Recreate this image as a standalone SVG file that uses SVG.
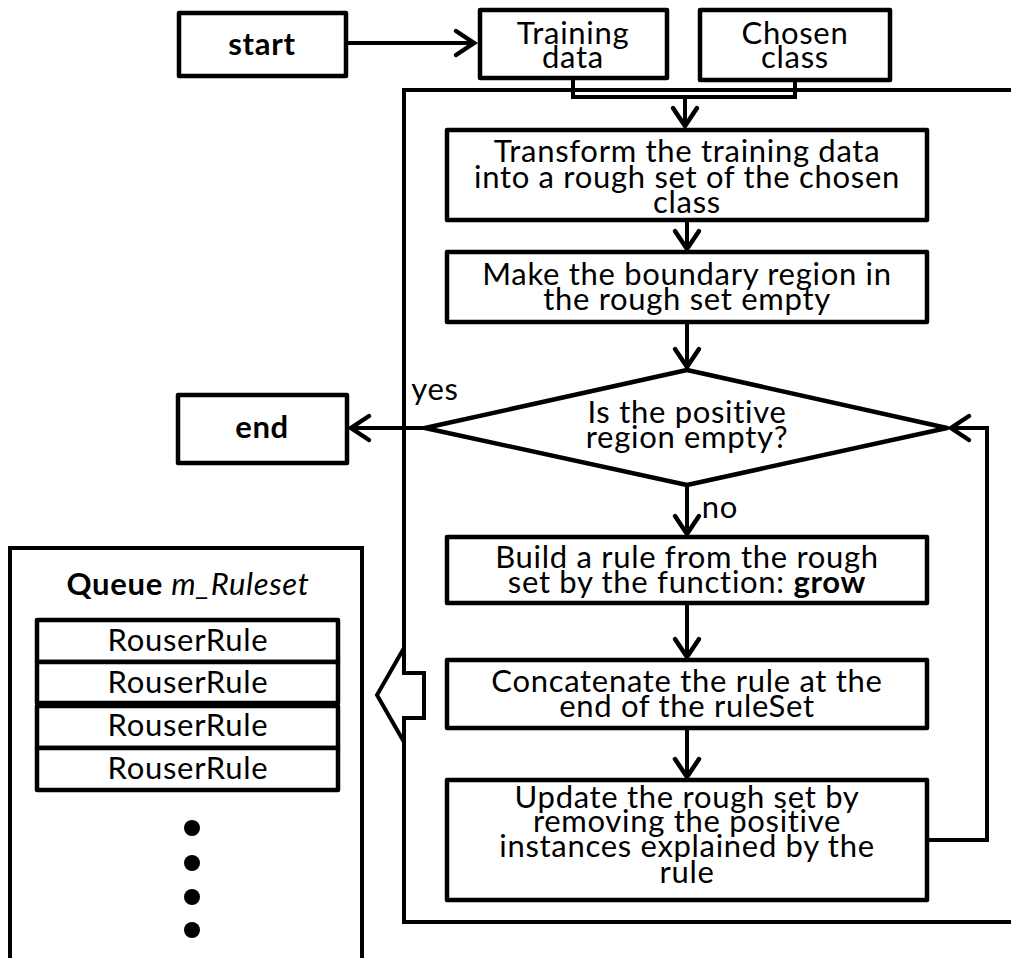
<svg xmlns="http://www.w3.org/2000/svg" width="1011" height="958" viewBox="0 0 1011 958">
<defs>
<style>
.box{fill:#fff;stroke:#000;stroke-width:4.5;stroke-linejoin:round}
.ln{fill:none;stroke:#000;stroke-width:4}
.t{font-family:Lato,"Liberation Sans",sans-serif;font-size:31px;letter-spacing:0.7px;fill:#000;text-anchor:middle}
.b{font-weight:bold}
</style>
<marker id="ah" markerUnits="userSpaceOnUse" markerWidth="40" markerHeight="40" refX="0" refY="0" orient="auto" overflow="visible">
<path d="M-18,-12 L0,0 L-18,12" fill="none" stroke="#000" stroke-width="4.5" stroke-linecap="round"/>
</marker>
</defs>
<rect width="1011" height="958" fill="#fff"/>

<g id="container"><path class="ln" d="M1020,90 H404 V922 H1020"/></g>

<g id="queue">
<path class="ln" d="M10,965 V548 H362 V965"/>
<text class="t" x="188" y="595"><tspan class="b">Queue </tspan><tspan font-style="italic">m_Ruleset</tspan></text>
<rect class="box" x="37" y="620" width="301" height="42"/>
<rect class="box" x="37" y="662" width="301" height="41"/>
<rect class="box" x="37" y="706" width="301" height="42"/>
<rect class="box" x="37" y="748" width="301" height="42"/>
<text class="t" x="188" y="651">RouserRule</text>
<text class="t" x="188" y="693">RouserRule</text>
<text class="t" x="188" y="736">RouserRule</text>
<text class="t" x="188" y="779">RouserRule</text>
<circle cx="192" cy="828" r="8"/>
<circle cx="192" cy="863" r="8"/>
<circle cx="192" cy="897" r="8"/>
<circle cx="192" cy="930" r="8"/>
</g>

<g id="connectors">
<line class="ln" x1="347" y1="43" x2="474" y2="43" marker-end="url(#ah)"/>
<path class="ln" d="M573,78 V97 H795 V80"/>
<line class="ln" x1="685" y1="97" x2="685" y2="126" marker-end="url(#ah)"/>
<line class="ln" x1="687" y1="220" x2="687" y2="249" marker-end="url(#ah)"/>
<line class="ln" x1="687" y1="322" x2="687" y2="367" marker-end="url(#ah)"/>
<line class="ln" x1="425" y1="428" x2="351" y2="428" marker-end="url(#ah)"/>
<line class="ln" x1="687" y1="485" x2="687" y2="534" marker-end="url(#ah)"/>
<line class="ln" x1="687" y1="603" x2="687" y2="657" marker-end="url(#ah)"/>
<line class="ln" x1="687" y1="728" x2="687" y2="777" marker-end="url(#ah)"/>
<path class="ln" d="M927,840 H987 V428 H951" marker-end="url(#ah)"/>
<polygon points="377,695 404,648 404,673 424,673 424,718 404,718 404,742" fill="#fff" stroke="#000" stroke-width="4" stroke-linejoin="miter"/>
</g>

<g id="start">
<rect class="box" x="179" y="13" width="167" height="63"/>
<text class="t b" x="262" y="55">start</text>
</g>
<g id="training">
<rect class="box" x="480" y="10" width="187" height="68"/>
<text class="t" x="573" y="44">Training</text>
<text class="t" x="573" y="68">data</text>
</g>
<g id="chosen">
<rect class="box" x="700" y="10" width="190" height="70"/>
<text class="t" x="795" y="44">Chosen</text>
<text class="t" x="795" y="68">class</text>
</g>
<g id="transform">
<rect class="box" x="447" y="130" width="480" height="90"/>
<text class="t" x="687" y="162">Transform the training data</text>
<text class="t" x="687" y="188">into a rough set of the chosen</text>
<text class="t" x="687" y="213">class</text>
</g>
<g id="make">
<rect class="box" x="447" y="252" width="480" height="70"/>
<text class="t" x="687" y="285">Make the boundary region in</text>
<text class="t" x="687" y="310">the rough set empty</text>
</g>
<g id="decision">
<polygon class="box" points="687,370 947,428 687,485 425,428"/>
<text class="t" x="687" y="423">Is the positive</text>
<text class="t" x="687" y="448">region empty?</text>
<text class="t" x="435" y="400" text-anchor="start">yes</text>
<text class="t" x="720" y="518" text-anchor="start">no</text>
</g>
<g id="end">
<rect class="box" x="178" y="395" width="169" height="68"/>
<text class="t b" x="262" y="438">end</text>
</g>
<g id="build">
<rect class="box" x="447" y="537" width="480" height="66"/>
<text class="t" x="687" y="568">Build a rule from the rough</text>
<text class="t" x="687" y="593">set by the function: <tspan class="b">grow</tspan></text>
</g>
<g id="concat">
<rect class="box" x="447" y="660" width="480" height="68"/>
<text class="t" x="687" y="692">Concatenate the rule at the</text>
<text class="t" x="687" y="717">end of the ruleSet</text>
</g>
<g id="update">
<rect class="box" x="447" y="780" width="480" height="120"/>
<text class="t" x="687" y="808">Update the rough set by</text>
<text class="t" x="687" y="832">removing the positive</text>
<text class="t" x="687" y="857">instances explained by the</text>
<text class="t" x="687" y="883">rule</text>
</g>
</svg>
